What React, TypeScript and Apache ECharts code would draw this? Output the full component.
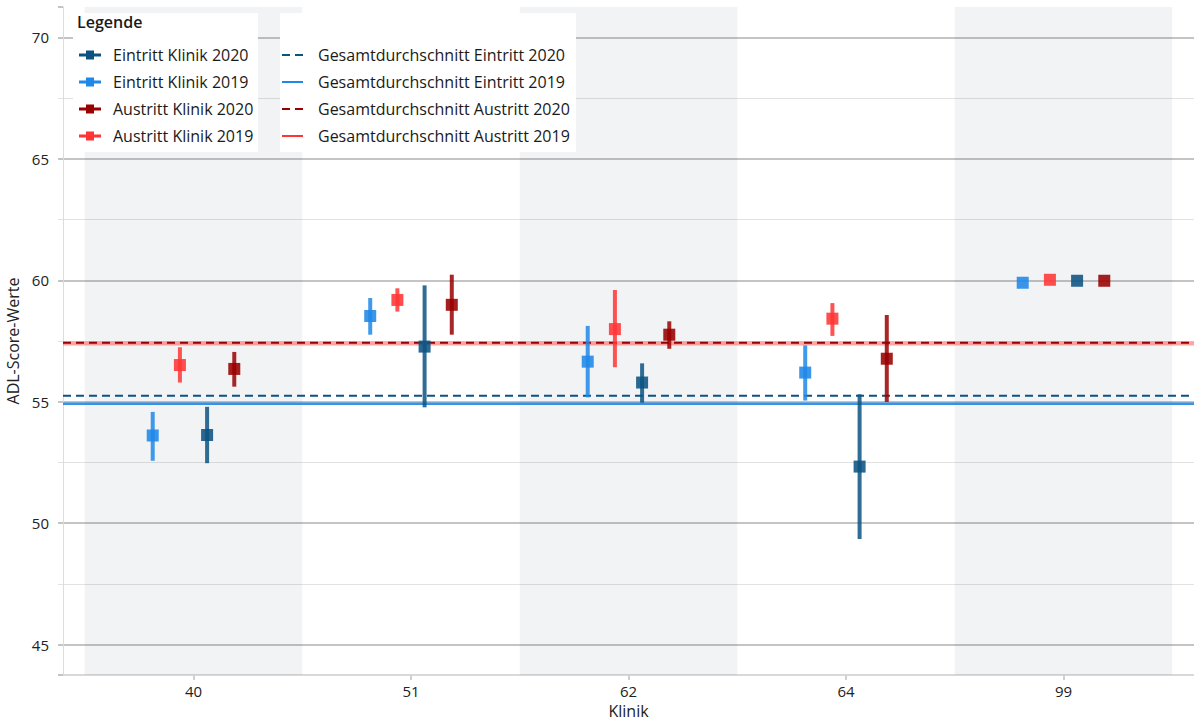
import React, { useEffect, useRef } from "react";
import * as echarts from "echarts";

const categories = ["40", "51", "62", "64", "99"];

const eintritt2020Mean = [53.63, 57.27, 55.79, 52.33, 59.98];
const eintritt2020Low = [52.47, 54.77, 54.96, 49.35, 59.98];
const eintritt2020High = [54.79, 59.79, 56.58, 55.31, 59.98];

const eintritt2019Mean = [53.61, 58.53, 56.65, 56.2, 59.9];
const eintritt2019Low = [52.57, 57.76, 55.18, 55.05, 59.9];
const eintritt2019High = [54.58, 59.27, 58.12, 57.32, 59.9];

const austritt2020Mean = [56.35, 58.99, 57.76, 56.77, 59.98];
const austritt2020Low = [55.62, 57.76, 57.18, 54.99, 59.98];
const austritt2020High = [57.05, 60.23, 58.31, 58.57, 59.98];

const austritt2019Mean = [56.51, 59.19, 57.99, 58.42, 60.02];
const austritt2019Low = [55.79, 58.71, 56.42, 57.71, 60.02];
const austritt2019High = [57.24, 59.67, 59.6, 59.06, 60.02];

const avgEintritt2020 = 55.25;
const avgEintritt2019 = 54.92;
const avgAustritt2020 = 57.43;
const avgAustritt2019 = 57.4;

const FONT = "'Open Sans', 'Noto Sans', sans-serif";
const C_E20 = "#0c5382";
const C_E19 = "#1f88e8";
const C_A20 = "#990000";
const C_A19 = "#ff3535";

const X_MIN = -0.6;
const X_MAX = 4.6;

const POINT_ICON = "path://M0,3H7V0H15V3H22V6H15V9H7V6H0Z";
const DASH_ICON = "path://M0,0H8V2H0Z M13,0H21V2H13Z";
const SOLID_ICON = "path://M0,0H21V2H0Z";

function buildPoints(mean: number[], low: number[], high: number[], offset: number) {
  return mean.map((m, i) => [i + offset, m, low[i], high[i]]);
}

function pointSeries(name: string, color: string, data: number[][]) {
  return {
    name,
    type: "custom",
    z: 5,
    itemStyle: { color },
    encode: { x: 0, y: 1 },
    renderItem: (params: any, api: any) => {
      const x = api.value(0);
      const y = api.value(1);
      const lo = api.value(2);
      const hi = api.value(3);
      const p = api.coord([x, y]);
      const pl = api.coord([x, lo]);
      const ph = api.coord([x, hi]);
      const children: any[] = [];
      if (Math.abs(pl[1] - ph[1]) > 0.5) {
        children.push({
          type: "line",
          shape: { x1: p[0], y1: pl[1], x2: p[0], y2: ph[1] },
          style: { stroke: color, lineWidth: 4, opacity: 0.85 },
        });
      }
      children.push({
        type: "rect",
        shape: { x: p[0] - 6, y: p[1] - 6, width: 12, height: 12 },
        style: { fill: color, opacity: 0.88 },
      });
      return { type: "group", children };
    },
    data,
  };
}

function meanSeries(name: string, color: string, value: number, dashed: boolean, width: number, opacity: number, extra: any = {}) {
  return {
    name,
    type: "line",
    z: 3,
    symbol: "none",
    silent: true,
    itemStyle: { color },
    lineStyle: { color, width, type: dashed ? [8, 5] : "solid", opacity },
    data: [
      [X_MIN, value],
      [X_MAX, value],
    ],
    ...extra,
  };
}

export default function App() {
  const ref = useRef<HTMLDivElement>(null);
  useEffect(() => {
    if (!ref.current) return;
    const chart = echarts.init(ref.current, undefined, { renderer: "svg" });
    const option: any = {
      animation: false,
      textStyle: { fontFamily: FONT },
      grid: { left: 63, right: 0, top: 7, bottom: 47, containLabel: false, outerBoundsMode: "none" },
      xAxis: {
        type: "value",
        min: X_MIN,
        max: X_MAX,
        name: "Klinik",
        nameLocation: "middle",
        nameGap: 26,
        nameTextStyle: { fontSize: 16, color: "#222", fontFamily: FONT },
        axisLine: { show: true, onZero: false, lineStyle: { color: "#d9d9d9", width: 2 } },
        axisTick: { show: true, customValues: [0, 1, 2, 3, 4], length: 5, lineStyle: { color: "#d0d0d0", width: 2 } },
        axisLabel: {
          customValues: [0, 1, 2, 3, 4],
          formatter: (v: number) => categories[Math.round(v)] ?? "",
          fontSize: 15,
          color: "#222",
          margin: 8,
          fontFamily: FONT,
        },
        splitLine: { show: false },
      },
      yAxis: {
        type: "value",
        min: 43.75,
        max: 71.25,
        splitNumber: 5,
        minInterval: 5,
        maxInterval: 5,
        name: "ADL-Score-Werte",
        nameLocation: "middle",
        nameGap: 34,
        nameTextStyle: { fontSize: 16, color: "#222", fontFamily: FONT },
        axisLine: { show: true, onZero: false, lineStyle: { color: "#dcdcdc", width: 1 } },
        axisTick: { show: true, length: 5, lineStyle: { color: "#c4c4c4", width: 2 } },
        minorTick: { show: true, splitNumber: 2, length: 5, lineStyle: { color: "#e2e2e2", width: 1 } },
        axisLabel: { showMinLabel: false, showMaxLabel: false, fontSize: 15, color: "#222", margin: 14, fontFamily: FONT },
        splitLine: { show: true, showMinLine: false, showMaxLine: false, lineStyle: { color: "#c4c4c4", width: 2 } },
        minorSplitLine: { show: true, lineStyle: { color: "#e2e2e2", width: 1 } },
      },
      legend: [
        {
          orient: "vertical",
          left: 79,
          top: 46,
          padding: 0,
          z: 30,
          itemWidth: 22,
          itemHeight: 9,
          itemGap: 9,
          selectedMode: false,
          itemStyle: { borderWidth: 0 },
          textStyle: { fontSize: 16, color: "#1a1a1a", lineHeight: 18, padding: [0, 0, 0, 7], fontFamily: FONT },
          data: [
            { name: "Eintritt Klinik 2020", icon: POINT_ICON },
            { name: "Eintritt Klinik 2019", icon: POINT_ICON },
            { name: "Austritt Klinik 2020", icon: POINT_ICON },
            { name: "Austritt Klinik 2019", icon: POINT_ICON },
          ],
        },
        {
          orient: "vertical",
          left: 282,
          top: 46,
          padding: 0,
          z: 30,
          itemWidth: 21,
          itemHeight: 2,
          itemGap: 9,
          selectedMode: false,
          itemStyle: { borderWidth: 0 },
          textStyle: { fontSize: 16, color: "#1a1a1a", lineHeight: 18, padding: [0, 0, 0, 10], fontFamily: FONT },
          data: [
            { name: "Gesamtdurchschnitt Eintritt 2020", icon: DASH_ICON },
            { name: "Gesamtdurchschnitt Eintritt 2019", icon: SOLID_ICON },
            { name: "Gesamtdurchschnitt Austritt 2020", icon: DASH_ICON },
            { name: "Gesamtdurchschnitt Austritt 2019", icon: SOLID_ICON },
          ],
        },
      ],
      graphic: [
        { type: "rect", left: 73, top: 13, shape: { width: 185, height: 139 }, style: { fill: "#ffffff" }, z: 10 },
        { type: "rect", left: 280, top: 13, shape: { width: 296, height: 139 }, style: { fill: "#ffffff" }, z: 10 },
        {
          type: "text",
          left: 77,
          top: 14,
          z: 11,
          style: { text: "Legende", fontSize: 16, fontWeight: 600, fill: "#1a1a1a", fontFamily: FONT },
        },
      ],
      series: [
        meanSeries("Gesamtdurchschnitt Eintritt 2019", C_E19, avgEintritt2019, false, 2.5, 0.9, {
          markArea: {
            silent: true,
            itemStyle: { color: "rgba(0,20,60,0.05)" },
            data: [
              [{ xAxis: -0.5 }, { xAxis: 0.5 }],
              [{ xAxis: 1.5 }, { xAxis: 2.5 }],
              [{ xAxis: 3.5 }, { xAxis: 4.5 }],
            ],
          },
        }),
        meanSeries("Gesamtdurchschnitt Eintritt 2020", C_E20, avgEintritt2020, true, 2, 1),
        meanSeries("Gesamtdurchschnitt Austritt 2019", C_A19, avgAustritt2019, false, 4, 0.45),
        meanSeries("Gesamtdurchschnitt Austritt 2020", C_A20, avgAustritt2020, true, 2, 1),
        pointSeries("Eintritt Klinik 2019", C_E19, buildPoints(eintritt2019Mean, eintritt2019Low, eintritt2019High, -0.1875)),
        pointSeries("Austritt Klinik 2019", C_A19, buildPoints(austritt2019Mean, austritt2019Low, austritt2019High, -0.0625)),
        pointSeries("Eintritt Klinik 2020", C_E20, buildPoints(eintritt2020Mean, eintritt2020Low, eintritt2020High, 0.0625)),
        pointSeries("Austritt Klinik 2020", C_A20, buildPoints(austritt2020Mean, austritt2020Low, austritt2020High, 0.1875)),
      ],
    };
    chart.setOption(option);
    return () => chart.dispose();
  }, []);
  return (
    <div
      ref={ref}
      style={{ position: "fixed", left: 0, top: 0, width: 1194, height: 722, background: "#fff" }}
    />
  );
}
